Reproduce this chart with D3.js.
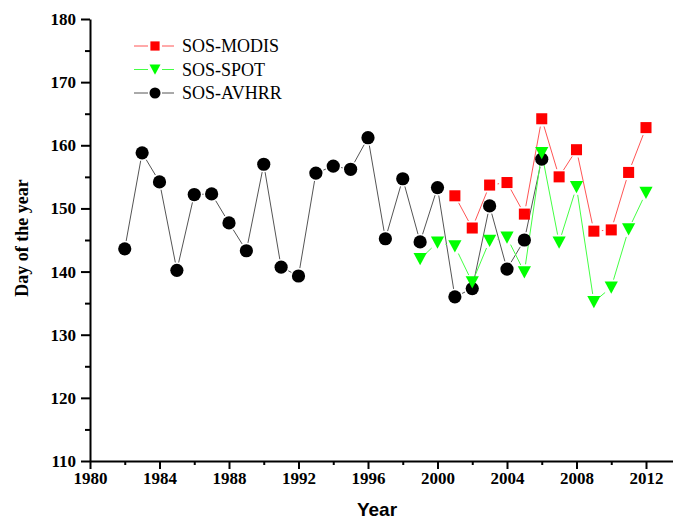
<!DOCTYPE html>
<html>
<head>
<meta charset="utf-8">
<script src="https://cdn.jsdelivr.net/npm/d3@7"></script>
<style>
  body { margin: 0; background: #fff; }
  svg { display: block; }
</style>
</head>
<body>
<svg width="673" height="519"></svg>
<script>
// Years for each sensor
const yearsAVHRR = [1982, 1983, 1984, 1985, 1986, 1987, 1988, 1989, 1990, 1991, 1992, 1993, 1994,
    1995, 1996, 1997, 1998, 1999, 2000, 2001, 2002, 2003, 2004, 2005, 2006];
const sosAVHRR = [143.6, 158.8, 154.2, 140.2, 152.2, 152.3, 147.7, 143.3, 157.0, 140.7, 139.3, 155.6, 156.7,
    156.2, 161.2, 145.2, 154.7, 144.7, 153.3, 136.0, 137.3, 150.4, 140.4, 145.0, 157.8];

const yearsSPOT = [1999, 2000, 2001, 2002, 2003, 2004, 2005, 2006, 2007, 2008, 2009, 2010, 2011, 2012];
const sosSPOT = [142.0, 144.6, 144.0, 138.3, 144.9, 145.4, 139.9, 158.8, 144.6, 153.4, 135.2, 137.5, 146.7, 152.5];

const yearsMODIS = [2001, 2002, 2003, 2004, 2005, 2006, 2007, 2008, 2009, 2010, 2011, 2012];
const sosMODIS = [152.0, 146.9, 153.7, 154.1, 149.1, 164.2, 155.0, 159.3, 146.4, 146.6, 155.7, 162.8];

const xTicks = [1980, 1984, 1988, 1992, 1996, 2000, 2004, 2008, 2012];
const yTicks = [110, 120, 130, 140, 150, 160, 170, 180];

const svg = d3.select("svg");

const x = d3.scaleLinear().domain([1980, 2012]).range([90, 646]);
const y = d3.scaleLinear().domain([110, 180]).range([461, 19]);

// Series definitions (drawn black first, then green, then red on top)
const series = [
    { name: "SOS-AVHRR", years: yearsAVHRR, vals: sosAVHRR, line: "#555", fill: "#000", shape: "circle" },
    { name: "SOS-SPOT", years: yearsSPOT, vals: sosSPOT, line: "#4f4", fill: "#0f0", shape: "tri" },
    { name: "SOS-MODIS", years: yearsMODIS, vals: sosMODIS, line: "#f55", fill: "#f00", shape: "square" }
];

function drawMarker(g, shape, cx, cy, s, fill) {
    if (shape === "circle") {
        g.append("circle").attr("cx", cx).attr("cy", cy).attr("r", s * 0.55).attr("fill", fill);
    } else if (shape === "square") {
        g.append("rect").attr("x", cx - s * 0.46).attr("y", cy - s * 0.46)
            .attr("width", s * 0.92).attr("height", s * 0.92).attr("fill", fill);
    } else {
        const h = s * 0.55;
        g.append("path")
            .attr("d", `M${cx - h},${cy - h * 0.9}L${cx + h},${cy - h * 0.9}L${cx},${cy + h * 0.95}Z`)
            .attr("fill", fill);
    }
}

// Lines with a gap next to each marker
const gap = 8;
series.forEach(s => {
    const g = svg.append("g");
    for (let i = 0; i < s.years.length - 1; i++) {
        const x1 = x(s.years[i]), y1 = y(s.vals[i]);
        const x2 = x(s.years[i + 1]), y2 = y(s.vals[i + 1]);
        const len = Math.hypot(x2 - x1, y2 - y1);
        if (len <= gap * 2) continue;
        const ux = (x2 - x1) / len, uy = (y2 - y1) / len;
        g.append("line")
            .attr("x1", x1 + ux * gap).attr("y1", y1 + uy * gap)
            .attr("x2", x2 - ux * gap).attr("y2", y2 - uy * gap)
            .attr("stroke", s.line).attr("stroke-width", 1);
    }
});
series.forEach(s => {
    const g = svg.append("g");
    s.years.forEach((yr, i) => drawMarker(g, s.shape, x(yr), y(s.vals[i]), 12, s.fill));
});

// Axes
const tickFont = "'Liberation Serif', 'Times New Roman', serif";

const xAxis = svg.append("g").attr("transform", "translate(0,461)")
    .call(d3.axisBottom(d3.scaleLinear().domain([1980, 2014]).range([90, x(2014)]))
        .tickValues(xTicks).tickFormat(d3.format("d")).tickSize(8).tickSizeOuter(0).tickPadding(3));
svg.append("g").attr("transform", "translate(0,461)")
    .call(d3.axisBottom(x).tickValues(d3.range(1982, 2014, 4)).tickFormat("").tickSize(4).tickSizeOuter(0))
    .select(".domain").remove();

const yAxis = svg.append("g").attr("transform", "translate(90,0)")
    .call(d3.axisLeft(y).tickValues(yTicks).tickSize(9).tickSizeOuter(0).tickPadding(5));
svg.append("g").attr("transform", "translate(90,0)")
    .call(d3.axisLeft(y).tickValues(d3.range(115, 180, 10)).tickFormat("").tickSize(5).tickSizeOuter(0))
    .select(".domain").remove();

svg.selectAll(".domain").attr("stroke", "#000").attr("stroke-width", 2);
svg.selectAll(".tick line").attr("stroke", "#000").attr("stroke-width", 2);
svg.selectAll(".tick text").attr("font-family", tickFont).attr("font-weight", "bold")
    .attr("font-size", 17).attr("fill", "#000");

// Axis titles
svg.append("text").attr("x", 377).attr("y", 516).attr("text-anchor", "middle")
    .attr("font-family", "'Liberation Sans', Arial, sans-serif").attr("font-weight", "bold")
    .attr("font-size", 19).text("Year");
svg.append("text").attr("transform", "translate(28,238) rotate(-90)").attr("text-anchor", "middle")
    .attr("font-family", tickFont).attr("font-weight", "bold")
    .attr("font-size", 18).text("Day of the year");

// Legend
const legendOrder = [series[2], series[1], series[0]];
legendOrder.forEach((s, i) => {
    const ly = 46 + i * 23.5;
    const g = svg.append("g");
    g.append("line").attr("x1", 134).attr("x2", 148).attr("y1", ly).attr("y2", ly)
        .attr("stroke", s.line).attr("stroke-width", 1);
    g.append("line").attr("x1", 162).attr("x2", 174).attr("y1", ly).attr("y2", ly)
        .attr("stroke", s.line).attr("stroke-width", 1);
    drawMarker(g, s.shape, 155, ly, 10, s.fill);
    g.append("text").attr("x", 182).attr("y", ly + 6)
        .attr("font-family", tickFont).attr("font-size", 18).text(s.name);
});
</script>
</body>
</html>
